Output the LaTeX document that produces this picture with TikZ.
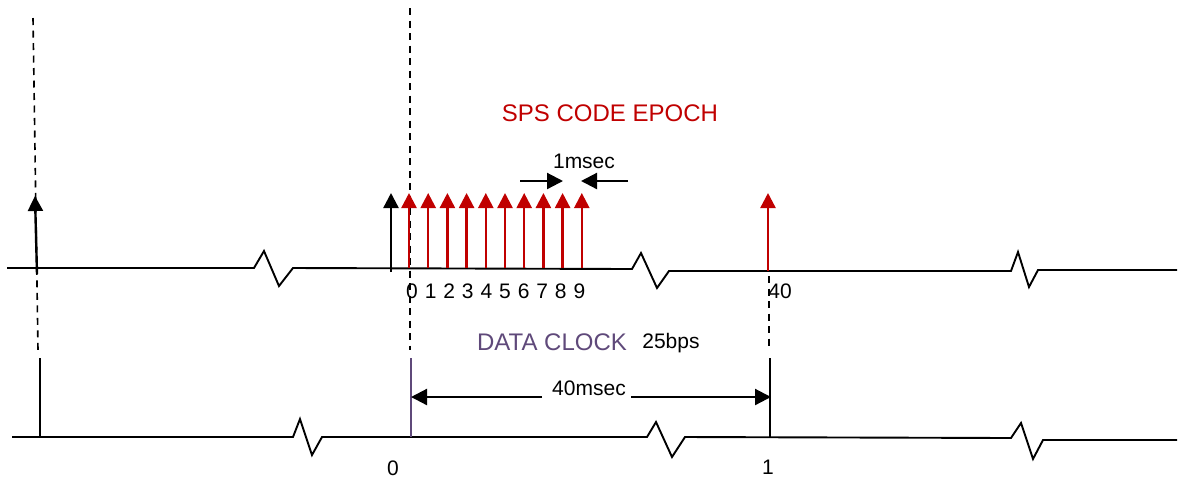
\documentclass[tikz,border=0pt]{standalone}
\usepackage{fontspec}
\setmainfont{Liberation Sans}
\usetikzlibrary{arrows.meta}
\definecolor{epochred}{RGB}{192,0,0}
\definecolor{clockpurple}{RGB}{95,73,122}
\tikzset{
	axis/.style={line width=0.95pt,line join=miter},
	epoch/.style={-{Triangle[width=7.5pt,length=7.5pt]},epochred,line width=1.2pt},
	pulse/.style={-{Triangle[width=7.5pt,length=7.5pt]},line width=1.2pt},
	guide/.style={line width=0.8pt,dash pattern=on 3.5pt off 2.75pt},
	span/.style={-{Triangle[width=8pt,length=8pt]},line width=1.1pt},
	lbl/.style={inner sep=0pt,font=\fontsize{10.5}{12}\selectfont},
}
\begin{document}
\begin{tikzpicture}[x=0.5pt,y=-0.5pt]
	\useasboundingbox (0,0) rectangle (1179,479);
	% code epoch axis with breaks
	\draw[axis] (7,268) -- (254,268) -- (264,251) -- (279,286) -- (293,268)
		-- (632,269) -- (641,253) -- (657,288) -- (669,271)
		-- (1011,271) -- (1018,252) -- (1029,287) -- (1038,270) -- (1177,270);
	% data clock axis with breaks
	\draw[axis] (12,437) -- (293,437) -- (300,419) -- (312,455) -- (322,437)
		-- (647,437) -- (656,422) -- (672,457) -- (685,437)
		-- (1011,438) -- (1021,423) -- (1033,459) -- (1043,440) -- (1177,440);
	% bit edges
	\coordinate (b0top) at (33,18);
	\coordinate (b0low) at (38,350);
	\coordinate (b1top) at (410,8);
	\coordinate (b1low) at (410,350);
	\coordinate (b2top) at (769,276);
	\coordinate (b2low) at (769,350);
	\draw[guide] (b0top) -- (b0low);
	\draw[guide] (b1top) -- (b1low);
	\draw[guide] (b2top) -- (b2low);
	\draw[axis] (40,358) -- (40,437);
	\draw[axis,clockpurple] (411,358) -- (411,437);
	\draw[axis] (770,358) -- (770,438);
	% epochs
	\draw[pulse] (37,274) -- (35,196);
	\draw[pulse] (391,272) -- (391,193);
	\foreach \i in {0,...,9}{
		\draw[epoch] ({409+19.2*\i},268) -- ({409+19.2*\i},193);
		\node[lbl] (ep\i) at ({412+18.6*\i},291) {\i};
	}
	\draw[epoch] (768,271) -- (768,193);
	\node[lbl] (ep40) at (780,291) {40};
	% texts
	\node[inner sep=0pt,epochred,font=\fontsize{12}{14}\selectfont] (title) at (610,113) {SPS CODE EPOCH};
	\node[lbl] (onems) at (584,161) {1msec};
	\coordinate (msA) at (520,181);
	\coordinate (msB) at (563,181);
	\coordinate (msC) at (628,181);
	\coordinate (msD) at (581,181);
	\draw[span] (msA) -- (msB);
	\draw[span] (msC) -- (msD);
	\node[inner sep=0pt,clockpurple,font=\fontsize{12}{14}\selectfont] (clock) at (552,342) {DATA CLOCK};
	\node[lbl] (rate) at (671,343) {25bps};
	\node[lbl] (fortyms) at (589,388) {40msec};
	\coordinate (spanL) at (542,397);
	\coordinate (spanR) at (631,397);
	\coordinate (edge0) at (411,397);
	\coordinate (edge1) at (771,397);
	\draw[span] (spanL) -- (edge0);
	\draw[span] (spanR) -- (edge1);
	\node[lbl] (bit0) at (393,468) {0};
	\node[lbl] (bit1) at (768,467) {1};
\end{tikzpicture}
\end{document}
